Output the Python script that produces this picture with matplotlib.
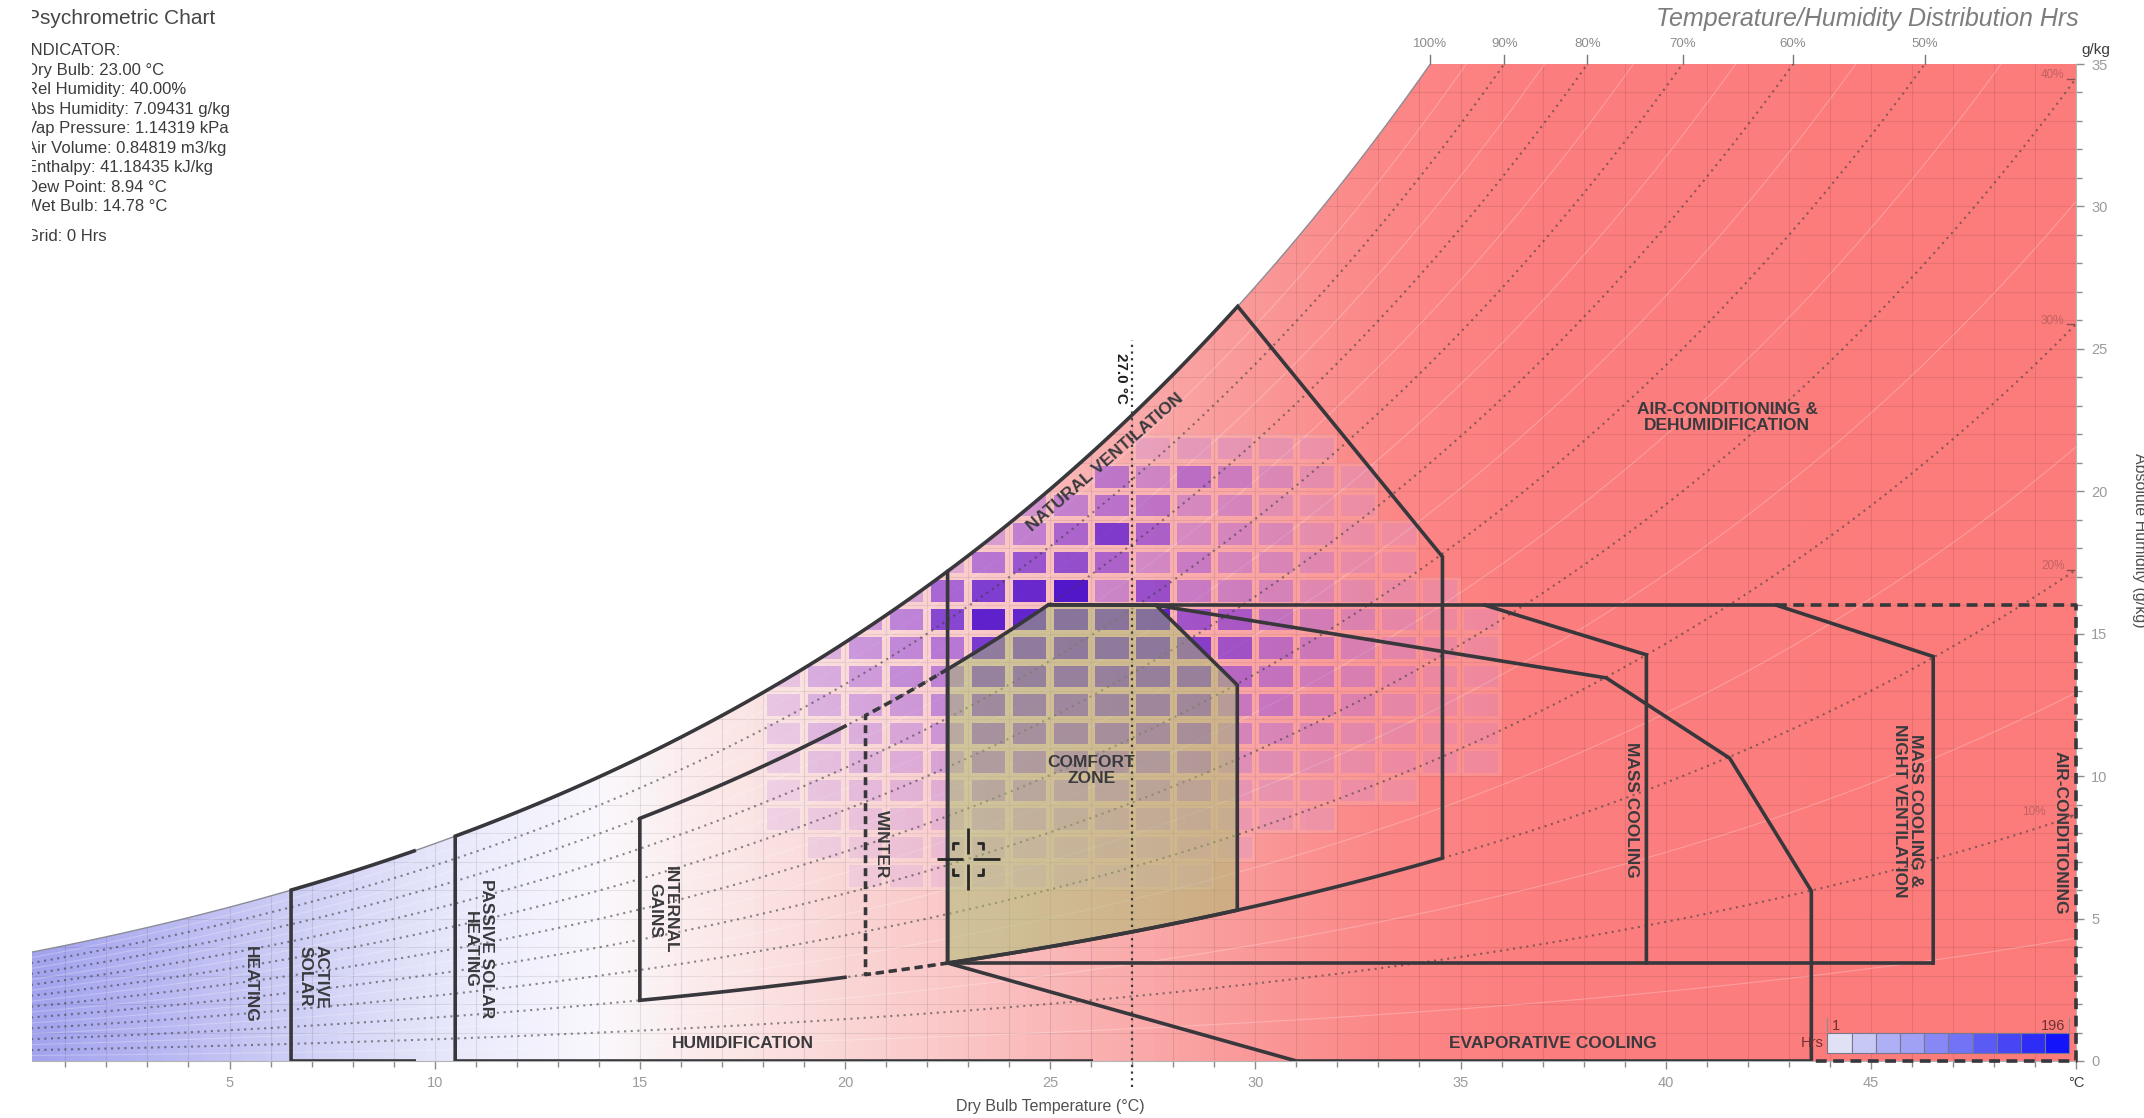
import numpy as np
import matplotlib.pyplot as plt
import matplotlib.colors as mcolors
from matplotlib.patches import Polygon, Rectangle

plt.rcParams['font.family'] = ['Liberation Sans', 'DejaVu Sans']

##Indicator readout##
indicator_lines = ["INDICATOR:", "Dry Bulb: 23.00 \u00b0C", "Rel Humidity: 40.00%",
                   "Abs Humidity: 7.09431 g/kg", "Vap Pressure: 1.14319 kPa",
                   "Air Volume: 0.84819 m3/kg", "Enthalpy: 41.18435 kJ/kg",
                   "Dew Point: 8.94 \u00b0C", "Wet Bulb: 14.78 \u00b0C"]
grid_text = "Grid: 0 Hrs"
indicator_t = 23.0
indicator_w = 7.09431
marker_t = 27.0

##Hours per 1 degC x 1 g/kg bin##
hour_temps = list(range(18, 36))
hour_ws = list(range(21, 5, -1))
hours = [
    # 18 19  20  21  22   23   24   25   26   27   28   29  30  31  32  33 34 35
    [0,  0,  0,  0,  0,   0,   0,   0,   0,   8,  12,  10,  8,  5,  0,  0, 0, 0],   # 21
    [0,  0,  0,  0,  0,   0,   0,   0,  70,  45,  75,  50, 25, 12,  5,  0, 0, 0],   # 20
    [0,  0,  0,  0,  0,   0,  40,  60,  75,  70,  35,  35, 15,  8,  4,  0, 0, 0],   # 19
    [0,  0,  0,  0,  0,  30,  65,  95, 150,  95,  35,  35, 25, 12,  6,  3, 0, 0],   # 18
    [0,  0,  0,  0, 20,  80, 120, 125,  95,  40,  55,  35, 30, 20, 10,  5, 0, 0],   # 17
    [0,  0,  0, 30, 100, 150, 175, 196,  50, 120,  55,  45, 35, 20, 12,  6, 3, 0],  # 16
    [0,  0, 45, 70, 140, 185, 180, 170, 170, 180, 110, 100, 60, 40, 25, 12, 5, 3],  # 15
    [0, 25, 50, 65,  80, 155, 155, 155, 155, 160, 140, 110, 70, 50, 30, 15, 6, 3],  # 14
    [10, 30, 45, 60, 70, 140, 140, 140, 140, 140, 135,  80, 60, 45, 30, 15, 6, 3],  # 13
    [10, 25, 35, 45, 60, 120, 120, 120, 120, 120, 115,  55, 55, 40, 25, 12, 5, 3],  # 12
    [8, 20, 25, 30, 45, 100, 100, 100, 100, 100,  95,  35, 30, 25, 15,  8, 4, 2],   # 11
    [5, 12, 18, 22, 30,  75,  75,  70,  70,  70,  65,  20, 18, 12,  8,  5, 3, 2],   # 10
    [3,  8, 12, 15, 18,  45,  45,  40,  40,  40,  35,  10,  8,  6,  4,  2, 0, 0],   # 9
    [2,  4,  6,  8, 10,  20,  20,  18,  18,  16,  14,   5,  4,  3,  0,  0, 0, 0],   # 8
    [0,  2,  3,  4,  5,   8,   8,   7,   7,   6,   5,   2,  0,  0,  0,  0, 0, 0],   # 7
    [0,  0,  1,  2,  2,   3,   3,   3,   2,   2,   1,   0,  0,  0,  0,  0, 0, 0],   # 6
]
hrs_min, hrs_max = 1, 196
legend_colors = ['#e1e1f5', '#c8c8f5', '#afaff5', '#a0a0f5', '#8787f5',
                 '#7373f5', '#5a5af5', '#4646f5', '#2d2df5', '#1414fa']

##Relative humidity lines##
rh_dotted = [10, 20, 30, 40, 50, 60, 70, 80, 90]
rh_faint = [5, 15, 25, 35, 45, 55, 65, 75, 85, 95]
rh_top_labels = [100, 90, 80, 70, 60, 50]
rh_side_labels = [40, 30, 20, 10]

##Strategy zone labels: text, T, W, rotation##
zone_labels = [
    ("HEATING", 5.5, 2.7, -90),
    ("ACTIVE\nSOLAR", 7.04, 2.96, -90),
    ("PASSIVE SOLAR\nHEATING", 11.07, 3.93, -90),
    ("INTERNAL\nGAINS", 15.56, 5.3, -90),
    ("WINTER", 20.89, 7.62, -90),
    ("HUMIDIFICATION", 17.52, 0.62, 0),
    ("EVAPORATIVE COOLING", 37.24, 0.62, 0),
    ("COMFORT\nZONE", 26.0, 10.2, 0),
    ("MASS COOLING", 39.16, 8.82, -90),
    ("MASS COOLING &\nNIGHT VENTILATION", 45.9, 8.8, -90),
    ("AIR-CONDITIONING", 49.62, 8.0, -90),
    ("AIR-CONDITIONING &\nDEHUMIDIFICATION", 41.5, 22.6, 0),
    ("NATURAL VENTILATION", 26.35, 21.0, 41),
]

P_ATM = 101.325


def sat_w(t):
    ps = 0.61078 * np.exp(17.27 * t / (t + 237.3))
    return 622.0 * ps / (P_ATM - ps)


def rh_curve(rh, t0, t1, n=40):
    t = np.linspace(t0, t1, n)
    return np.column_stack([t, rh / 100.0 * sat_w(t)])


def t_at_w(w, rh):
    tg = np.linspace(0, 80, 4000)
    return np.interp(w, rh / 100.0 * sat_w(tg), tg)


W_PX, H_PX = 2144, 1118
fig = plt.figure(figsize=(W_PX / 100, H_PX / 100), dpi=100)
ax = fig.add_axes([24.35 / W_PX, 1 - 1061 / H_PX, (2076 - 24.35) / W_PX, (1061 - 64) / H_PX])
ax.set_xlim(0, 50)
ax.set_ylim(0, 35)

##Region under the saturation curve##
t_top = t_at_w(35, 100)
region = np.vstack([[(0, 0)], rh_curve(100, 0, t_top, 120), [(50, 35), (50, 0)]])
clip = Polygon(region, closed=True, facecolor='none', edgecolor='none', transform=ax.transData)
ax.add_patch(clip)

bg_stops = [(0, (162, 162, 238)), (3, (182, 182, 242)), (7, (210, 210, 246)),
            (11, (236, 236, 252)), (14, (250, 248, 252)), (17, (252, 232, 232)),
            (21, (250, 208, 208)), (25, (250, 184, 184)), (29, (250, 158, 158)),
            (33, (252, 136, 136)), (37, (252, 126, 126)), (50, (252, 124, 124))]
bg_cmap = mcolors.LinearSegmentedColormap.from_list(
    'bg', [(t / 50, tuple(c / 255 for c in rgb)) for t, rgb in bg_stops])
im = ax.imshow(np.linspace(0, 1, 600).reshape(1, -1), cmap=bg_cmap, extent=[0, 50, 0, 35],
               aspect='auto', origin='lower', interpolation='bilinear', zorder=0)
im.set_clip_path(clip)

##Background grid##
vl = ax.vlines(np.arange(1, 50), 0, 35, colors='k', alpha=0.09, lw=0.8, zorder=1)
hl = ax.hlines(np.arange(1, 35), 0, 50, colors='k', alpha=0.08, lw=0.8, zorder=1)
vl.set_clip_path(clip)
hl.set_clip_path(clip)
for rh in rh_faint:
    c = rh_curve(rh, 0, 50, 200)
    ln, = ax.plot(c[:, 0], c[:, 1], color='white', alpha=0.25, lw=0.8, zorder=1)
    ln.set_clip_path(clip)

##Hour bins##
cell_cmap = mcolors.LinearSegmentedColormap.from_list(
    'cells', [(0.0, '#a55fe6'), (0.5, '#7828d7'), (1.0, '#3c00cd')])
for i, w in enumerate(hour_ws):
    for j, t in enumerate(hour_temps):
        h = hours[i][j]
        if h <= 0:
            continue
        n = h / hrs_max
        base = Rectangle((t, w), 1, 1, facecolor='white', edgecolor='none', alpha=0.12, zorder=2)
        cell = Rectangle((t + 0.09, w + 0.12), 0.82, 0.76, facecolor=cell_cmap(n),
                         edgecolor='none', alpha=0.08 + 0.8 * n ** 0.6, zorder=2.1)
        for p in (base, cell):
            ax.add_patch(p)
            p.set_clip_path(clip)

##Dotted RH lines##
for rh in rh_dotted:
    c = rh_curve(rh, 0, 50, 200)
    ax.plot(c[:, 0], c[:, 1], color='#3c3c3c', alpha=0.6, lw=1.5, ls=(0, (1, 2.2)), zorder=3)
sat = rh_curve(100, 0, t_top, 120)
ax.plot(sat[:, 0], sat[:, 1], color='#8c8c96', lw=1.0, zorder=3)

##Comfort zone##
comfort = np.vstack([rh_curve(80, 22.5, 24.96), [(27.58, 16), (29.56, 13.2)],
                     rh_curve(20, 29.56, 22.5)])
ax.add_patch(Polygon(comfort, closed=True, facecolor='#a6be6e', edgecolor='none',
                     alpha=0.5, zorder=4))

##Strategy zone outlines##
zline = dict(color='#37373c', lw=2.6, zorder=5, solid_joinstyle='miter')
zones = [
    np.vstack([rh_curve(100, 9.5, 6.5), [(6.5, 0), (9.5, 0)]]),
    np.vstack([[(26, 0), (10.5, 0)], rh_curve(100, 10.5, 22.5)]),
    np.vstack([[(22.5, 3.44)], rh_curve(100, 22.5, 29.57), [(34.56, 17.7)],
               rh_curve(20, 34.56, 22.5)]),
    np.vstack([rh_curve(80, 20, 15), rh_curve(20, 15, 20)]),
    np.vstack([comfort, comfort[:1]]),
    np.array([(24.96, 16), (42.7, 16)]),
    np.array([(22.5, 3.44), (31, 0), (43.55, 0), (43.55, 5.97), (41.56, 10.63),
              (38.55, 13.45), (27.58, 16)]),
    np.array([(35.6, 16), (39.53, 14.26), (39.53, 3.44)]),
    np.array([(22.5, 3.44), (46.52, 3.44)]),
    np.array([(42.7, 16), (46.52, 14.2), (46.52, 3.44)]),
]
for z in zones:
    ax.plot(z[:, 0], z[:, 1], **zline)
winter = np.vstack([rh_curve(80, 22.5, 20.5), rh_curve(20, 20.5, 22.5)])
ax.plot(winter[:, 0], winter[:, 1], color='#37373c', lw=2.6, ls=(0, (2.2, 1.4)), zorder=5)
ac = np.array([(42.7, 16), (50, 16), (50, 0), (43.55, 0)])
ax.plot(ac[:, 0], ac[:, 1], color='#37373c', lw=2.6, ls=(0, (3, 1.8)), zorder=5, clip_on=False)

for text, t, w, rot in zone_labels:
    ax.text(t, w, text, rotation=rot, rotation_mode='anchor', ha='center', va='center',
            fontsize=12.5, fontweight='bold', color='#3a3a3e', linespacing=1.05, zorder=6)

##Dry bulb marker##
ax.plot([marker_t, marker_t], [-0.9, 25.3], color='#3c3c3c', lw=1.6, ls=(0, (1, 2)),
        zorder=5, clip_on=False)
ax.text(26.72, 23.95, "%.1f \u00b0C" % marker_t, rotation=-90, rotation_mode='anchor',
        ha='center', va='center', fontsize=11, fontweight='bold', color='#1e1e1e', zorder=6)

##Indicator crosshair##
ck = dict(color='#262626', lw=2.0, zorder=7, solid_capstyle='butt')
dx, dy = 0.77, 1.1
ax.plot([indicator_t - dx, indicator_t - 0.12], [indicator_w, indicator_w], **ck)
ax.plot([indicator_t + 0.12, indicator_t + dx], [indicator_w, indicator_w], **ck)
ax.plot([indicator_t, indicator_t], [indicator_w - dy, indicator_w - 0.18], **ck)
ax.plot([indicator_t, indicator_t], [indicator_w + 0.18, indicator_w + dy], **ck)
bx, by, ax_len, ay_len = 0.37, 0.55, 0.15, 0.22
for sx in (-1, 1):
    for sy in (-1, 1):
        cx, cy = indicator_t + sx * bx, indicator_w + sy * by
        ax.plot([cx - sx * ax_len, cx, cx], [cy, cy, cy - sy * ay_len], **ck)

##Hours legend##
lx0, lx1, ly0, ly1 = 43.94, 49.84, 0.28, 0.98
step = (lx1 - lx0) / len(legend_colors)
for k, col in enumerate(legend_colors):
    ax.add_patch(Rectangle((lx0 + k * step, ly0), step, ly1 - ly0, facecolor=col,
                           edgecolor='#78788c', lw=0.8, zorder=8))
ax.plot([lx0, lx0], [1.05, 1.5], color='#8c8c8c', lw=0.8, zorder=8)
ax.plot([lx1, lx1], [1.05, 1.5], color='#8c8c8c', lw=0.8, zorder=8)
ax.text(lx0 + 0.1, 1.0, str(hrs_min), ha='left', va='bottom', fontsize=10.5, color='#6e3232', zorder=8)
ax.text(lx1 - 0.1, 1.0, str(hrs_max), ha='right', va='bottom', fontsize=10.5, color='#6e3232', zorder=8)
ax.text(lx0 - 0.1, (ly0 + ly1) / 2, "Hrs", ha='right', va='center', fontsize=10.5,
        color='#6e3232', zorder=8)

##RH labels along the top and right edges##
for rh in rh_top_labels:
    t = t_at_w(35, rh)
    ax.plot([t, t], [35, 35.32], color='#787878', lw=1.0, clip_on=False)
    ax.text(t, 35.7, "%d%%" % rh, ha='center', va='center', fontsize=9.5, color='#8c8c8c')
for rh in rh_side_labels:
    w_end = rh / 100.0 * sat_w(50.0)
    x_lab = 49.72 if rh > 10 else 49.25
    ax.text(x_lab, w_end + 0.12, "%d%%" % rh, ha='right', va='center', fontsize=8.5,
            color='#b45a5a', alpha=0.8, zorder=6)
    ax.plot([49.78, 49.95], [w_end, w_end], color='#8c5050', lw=1.0, zorder=6)

##Axes##
for side in ('top', 'left'):
    ax.spines[side].set_visible(False)
for side in ('bottom', 'right'):
    ax.spines[side].set_color('#b4b4b4')
    ax.spines[side].set_linewidth(0.8)
ax.set_xticks(np.arange(5, 51, 5))
ax.set_xticklabels([str(v) for v in range(5, 50, 5)] + ["\u00b0C"])
ax.set_xticks(np.arange(1, 50), minor=True)
ax.yaxis.tick_right()
ax.set_yticks(np.arange(0, 36, 5))
ax.set_yticks(np.arange(0, 36, 1), minor=True)
ax.tick_params(which='major', length=6, width=1, color='#8c8c8c', labelsize=10.5,
               labelcolor='#9b9b9b', pad=5)
ax.tick_params(which='minor', length=4, width=1, color='#8c8c8c')
ax.get_xticklabels()[-1].set_color('#3c3c3c')
ax.set_xlabel("Dry Bulb Temperature (\u00b0C)", fontsize=11.5, color='#505050', labelpad=6)

##Figure text##
fig.text(2096 / W_PX, 1 - 50 / H_PX, "g/kg", ha='center', va='center', fontsize=11, color='#3c3c3c')
fig.text(2140 / W_PX, 1 - 540 / H_PX, "Absolute Humidity (g/kg)", rotation=-90,
         ha='center', va='center', fontsize=11.5, color='#505050')
fig.text(2079 / W_PX, 1 - 19 / H_PX, "Temperature/Humidity Distribution Hrs", ha='right',
         va='center', fontsize=18, style='italic', color='#7d7d7d')
fig.text(26 / W_PX, 1 - 18 / H_PX, "Psychrometric Chart", ha='left', va='center',
         fontsize=15, color='#464646')
for k, line in enumerate(indicator_lines):
    fig.text(26 / W_PX, 1 - (50.6 + 19.5 * k) / H_PX, line, ha='left', va='center',
             fontsize=12, color='#3c3c3c')
fig.text(26 / W_PX, 1 - 236.5 / H_PX, grid_text, ha='left', va='center', fontsize=12,
         color='#3c3c3c')

##Left margin##
fig.add_artist(Rectangle((0, 0), 31.5 / W_PX, 1, transform=fig.transFigure,
                         facecolor='white', edgecolor='none', zorder=50))

fig.savefig("out.png", dpi=100)
